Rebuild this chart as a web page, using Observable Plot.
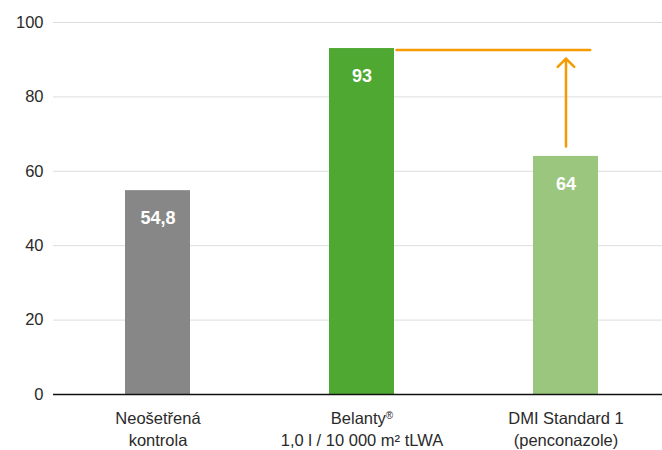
<!DOCTYPE html>
<html>
<head>
<meta charset="utf-8">
<script src="https://cdn.jsdelivr.net/npm/d3@7"></script>
<script src="https://cdn.jsdelivr.net/npm/@observablehq/plot@0.6"></script>
<style>
  html, body { margin: 0; padding: 0; background: #fff; }
  #chart { width: 662px; height: 450px; }
</style>
</head>
<body>
<div id="chart"></div>
<script>
const categories = ["Neošetřená\nkontrola", "Belanty®\n1,0 l / 10 000 m² tLWA", "DMI Standard 1\n(penconazole)"];
const values = [54.8, 93, 64];
const valueLabels = ["54,8", "93", "64"];
const barColors = ["#878787", "#4ea832", "#9bc67e"];
const yTicks = [0, 20, 40, 60, 80, 100];
// orange comparison marker: Belanty level carried over to DMI, arrow from DMI bar up
const refLevel = 92.6;
const arrowFrom = 66.7;
const arrowTo = 90.3;

const data = categories.map((c, i) => ({cat: c, value: values[i], label: valueLabels[i], color: barColors[i]}));
const orange = "#f59b00";

const chart = Plot.plot({
  width: 662,
  height: 450,
  marginTop: 22,
  marginBottom: 56,
  marginLeft: 53,
  marginRight: 0,
  style: {fontFamily: "'Liberation Sans', Arial, sans-serif", fontSize: "16px", color: "#2a2a2a", background: "#fff"},
  x: {domain: categories, paddingInner: 0.683, paddingOuter: 0.327, align: 0.53, label: null},
  y: {domain: [0, 100], label: null},
  marks: [
    Plot.ruleY(yTicks.filter(d => d > 0), {stroke: "#dcdcdc", strokeWidth: 1}),
    Plot.barY(data, {x: "cat", y: "value", fill: "color"}),
    Plot.ruleY([0], {stroke: "#111", strokeWidth: 1.3}),
    Plot.axisY({ticks: yTicks, tickSize: 0, tickPadding: 10, fontSize: 16.5, fill: "#2a2a2a"}),
    Plot.axisX({tickSize: 0, tickPadding: 14, fontSize: 16.5, lineHeight: 1.33, fill: "#2a2a2a"}),
    Plot.text(data, {x: "cat", y: "value", text: "label", dy: 28, fill: "white", fontWeight: "bold", fontSize: 18}),
    Plot.arrow([{x1: categories[1], x2: categories[2], y: refLevel}], {
      x1: "x1", x2: "x2", y1: "y", y2: "y", stroke: orange, strokeWidth: 2.5,
      headLength: 0, insetStart: 34.5, insetEnd: -24.2
    }),
    Plot.arrow([{x: categories[2], y1: arrowFrom, y2: arrowTo}], {
      x1: "x", x2: "x", y1: "y1", y2: "y2", stroke: orange, strokeWidth: 2.5,
      headLength: 7, headAngle: 90
    })
  ]
});

// superscript registered mark
chart.querySelectorAll("tspan, text").forEach(el => {
  if (el.childNodes.length === 1 && el.firstChild.nodeType === 3 && el.textContent.includes("®")) {
    const t = el.textContent;
    const idx = t.indexOf("®");
    el.textContent = t.slice(0, idx);
    const sup = document.createElementNS("http://www.w3.org/2000/svg", "tspan");
    sup.setAttribute("font-size", "10");
    sup.setAttribute("baseline-shift", "super");
    sup.textContent = "®";
    el.appendChild(sup);
    if (idx + 1 < t.length) el.appendChild(document.createTextNode(t.slice(idx + 1)));
  }
});

document.getElementById("chart").appendChild(chart);
</script>
</body>
</html>
